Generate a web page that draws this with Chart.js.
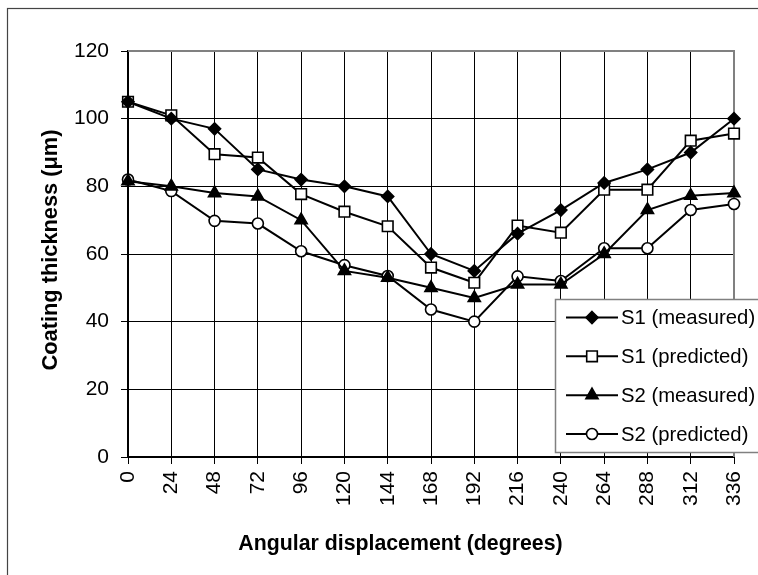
<!DOCTYPE html>
<html>
<head>
<meta charset="utf-8">
<style>
  html, body { margin: 0; padding: 0; background: #fff; }
  #wrap { position: relative; width: 758px; height: 575px; }
</style>
<script src="https://cdn.jsdelivr.net/npm/chart.js@4/dist/chart.umd.min.js"></script>
</head>
<body>
<div id="wrap"><canvas id="c" width="758" height="575"></canvas></div>
<script>
const categories = ['0','24','48','72','96','120','144','168','192','216','240','264','288','312','336'];
const s1Measured  = [105, 100, 97, 85, 82, 80, 77, 60, 55, 66, 73, 81, 85, 90, 100];
const s1Predicted = [105, 101, 89.5, 88.5, 77.7, 72.5, 68.2, 56, 51.5, 68.4, 66.3, 79, 79, 93.5, 95.6];
const s2Measured  = [81.5, 80, 78, 77, 70, 55, 53, 50, 47, 51, 51, 60, 73, 77.2, 78];
const s2Predicted = [82, 78.6, 69.8, 69, 60.8, 56.7, 53.5, 43.6, 40, 53.4, 52, 61.7, 61.7, 73, 74.8];
const yTicks = [0, 20, 40, 60, 80, 100, 120];
const seriesNames = ['S1 (measured)', 'S1 (predicted)', 'S2 (measured)', 'S2 (predicted)'];
const xTitle = 'Angular displacement (degrees)';
const yTitle = 'Coating thickness (μm)';

const FONT = "'Liberation Sans', Arial, sans-serif";

const styles = [
  { pointStyle: 'rectRot', radius: 6, fill: '#000' },
  { pointStyle: 'rect', radius: 7.5, fill: '#fff' },
  { pointStyle: 'triangle', radius: 7, fill: '#000' },
  { pointStyle: 'circle', radius: 5.5, fill: '#fff' }
];
const seriesData = [s1Measured, s1Predicted, s2Measured, s2Predicted];

const datasets = seriesData.map((d, i) => ({
  label: seriesNames[i],
  data: d,
  borderColor: '#000',
  borderWidth: 2,
  backgroundColor: styles[i].fill,
  pointStyle: styles[i].pointStyle,
  pointRadius: styles[i].radius,
  pointBackgroundColor: styles[i].fill,
  pointBorderColor: '#000',
  pointBorderWidth: 1.6,
  tension: 0,
  fill: false,
  clip: false
}));

function drawMarker(ctx, style, x, y) {
  const r = style.radius;
  ctx.save();
  ctx.fillStyle = style.fill;
  ctx.strokeStyle = '#000';
  ctx.lineWidth = 1.6;
  ctx.beginPath();
  if (style.pointStyle === 'rectRot') {
    ctx.moveTo(x, y - r); ctx.lineTo(x + r, y); ctx.lineTo(x, y + r); ctx.lineTo(x - r, y); ctx.closePath();
  } else if (style.pointStyle === 'rect') {
    const s = r * Math.SQRT1_2;
    ctx.rect(x - s, y - s, 2 * s, 2 * s);
  } else if (style.pointStyle === 'triangle') {
    const a = Math.PI / 2;
    for (let k = 0; k < 3; k++) {
      const ang = -a + k * 2 * Math.PI / 3;
      const px = x + Math.cos(ang) * r, py = y + Math.sin(ang) * r;
      if (k === 0) ctx.moveTo(px, py); else ctx.lineTo(px, py);
    }
    ctx.closePath();
  } else {
    ctx.arc(x, y, r, 0, Math.PI * 2);
  }
  ctx.fill();
  ctx.stroke();
  ctx.restore();
}

const framePlugin = {
  id: 'frame',
  beforeDraw(chart) {
    const ctx = chart.ctx;
    ctx.save();
    ctx.fillStyle = '#fff';
    ctx.fillRect(0, 0, chart.width, chart.height);
    ctx.strokeStyle = '#444';
    ctx.lineWidth = 1.2;
    ctx.strokeRect(7.5, 8.5, 900, 700);
    // axis titles
    ctx.fillStyle = '#000';
    ctx.textAlign = 'center';
    ctx.textBaseline = 'middle';
    ctx.font = 'bold 21.3px ' + FONT;
    ctx.fillText(xTitle, 400.5, 544.5);
    ctx.translate(51, 250);
    ctx.rotate(-Math.PI / 2);
    ctx.font = 'bold 21.8px ' + FONT;
    ctx.fillText(yTitle, 0, 0);
    ctx.restore();
  },
  beforeDatasetsDraw(chart) {
    const ctx = chart.ctx;
    const a = chart.chartArea;
    ctx.save();
    ctx.strokeStyle = '#808080';
    ctx.lineWidth = 2;
    ctx.beginPath();
    ctx.moveTo(a.left, a.top);
    ctx.lineTo(a.right, a.top);
    ctx.lineTo(a.right, a.bottom);
    ctx.stroke();
    ctx.restore();
  },
  afterDraw(chart) {
    const ctx = chart.ctx;
    ctx.save();
    // legend box
    const bx = 555.5, by = 299.5, bw = 260, bh = 153;
    ctx.fillStyle = '#fff';
    ctx.fillRect(bx, by, bw, bh);
    ctx.strokeStyle = '#808080';
    ctx.lineWidth = 1.5;
    ctx.strokeRect(bx, by, bw, bh);
    const rowY = [317.5, 356.3, 395.2, 434];
    ctx.font = '20.3px ' + FONT;
    ctx.textBaseline = 'middle';
    ctx.textAlign = 'left';
    for (let i = 0; i < 4; i++) {
      const y = rowY[i];
      ctx.strokeStyle = '#000';
      ctx.lineWidth = 2;
      ctx.beginPath();
      ctx.moveTo(566, y);
      ctx.lineTo(618, y);
      ctx.stroke();
      drawMarker(ctx, styles[i], 592, y);
      ctx.fillStyle = '#000';
      ctx.fillText(seriesNames[i], 621, y + 1);
    }
    ctx.restore();
  }
};

new Chart(document.getElementById('c'), {
  type: 'line',
  data: { labels: categories, datasets },
  plugins: [framePlugin],
  options: {
    responsive: false,
    animation: false,
    devicePixelRatio: 1,
    layout: { padding: { left: 0, top: 51, right: 24, bottom: 0 } },
    plugins: { legend: { display: false }, tooltip: { enabled: false } },
    scales: {
      x: {
        type: 'category',
        offset: false,
        afterFit(scale) { scale.height = 118; scale.paddingLeft = 0; scale.paddingRight = 0; },
        grid: { color: '#000', lineWidth: 1, tickLength: 7, tickColor: '#000', drawOnChartArea: true },
        border: { color: '#000', width: 2 },
        ticks: {
          autoSkip: false, maxRotation: 90, minRotation: 90, padding: 7,
          color: '#000', font: { family: FONT, size: 21 }
        },
        title: { display: false }
      },
      y: {
        min: 0, max: 120,
        afterFit(scale) { scale.width = 128; scale.paddingTop = 0; scale.paddingBottom = 0; },
        afterBuildTicks(scale) { scale.ticks = yTicks.map(v => ({ value: v })); },
        grid: {
          color: (c) => (c.tick && c.tick.value === 120) ? 'rgba(0,0,0,0)' : '#000',
          lineWidth: 1, tickLength: 7, tickColor: '#000'
        },
        border: { color: '#000', width: 2 },
        ticks: {
          stepSize: 20, padding: 12, color: '#000',
          font: { family: FONT, size: 21 }
        },
        title: { display: false }
      }
    }
  }
});
</script>
</body>
</html>
